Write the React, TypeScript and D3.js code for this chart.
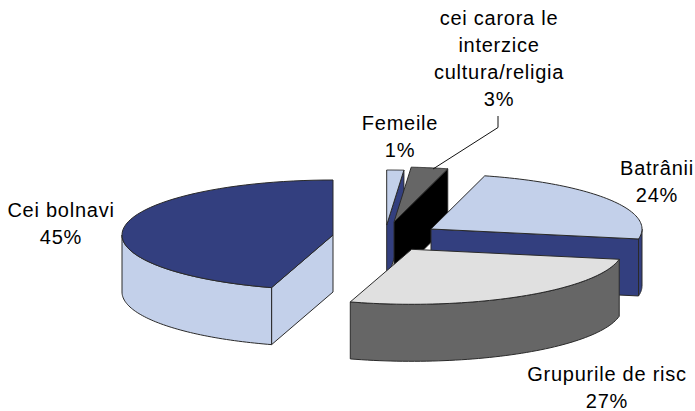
import React from "react";
import * as d3 from "d3";

const categories = ["Femeile", "cei carora le interzice cultura/religia", "Batrânii", "Grupurile de risc", "Cei bolnavi"];
const values = [1.3, 2.8, 23.8, 26.8, 45.3];
const topColors = ["#c3d0ea", "#666666", "#c3d0ea", "#e0e0e0", "#333f7f"];
const sideColors = ["#333f7f", "#000000", "#333f7f", "#666666", "#c3d0ea"];
const labelLines = [["Femeile"], ["cei carora le", "interzice", "cultura/religia"], ["Batrânii"], ["Grupurile de risc"], ["Cei bolnavi"]];

// layout (not data): exploded slice centres, label anchors and draw order
const centres: [number, number][] = [[386.7, 225], [394, 222], [431, 229], [411.7, 249.3], [333, 235]];
const labelPos: [number, number][] = [[400, 130], [499, 25], [657, 175], [607, 381], [61, 217]];
const drawOrder = [0, 1, 2, 4, 3];
const RX = 211, RY = 55, DEPTH = 57, LINE = 27;
const FONT = "'Liberation Sans', Arial, sans-serif";

export default function App() {
  const arcs = d3.pie<number>().sort(null).value((d) => d)(values);
  const pct = d3.format(".0f");
  const line = d3.line<[number, number]>().curve(d3.curveLinear);

  const pt = (i: number, a: number, dz = 0): [number, number] => [
    centres[i][0] + RX * Math.sin(a),
    centres[i][1] - RY * Math.cos(a) + dz,
  ];
  const sample = (i: number, a0: number, a1: number, dz = 0) =>
    d3.range(0, 61).map((k) => pt(i, d3.interpolateNumber(a0, a1)(k / 60), dz));

  return (
    <svg width={695} height={411} style={{ position: "absolute", left: 0, top: 0, background: "#fff" }}>
      {drawOrder.map((i) => {
        const { startAngle: s, endAngle: e } = arcs[i];
        const apex = centres[i];
        const apexLow: [number, number] = [apex[0], apex[1] + DEPTH];
        const r0 = Math.max(s, Math.PI / 2);
        const r1 = Math.min(e, (3 * Math.PI) / 2);
        const hasRim = r1 > r0;
        const rim = hasRim
          ? [...sample(i, r0, r1), ...sample(i, r1, r0, DEPTH)]
          : [];
        const wall = (a: number) => [apex, pt(i, a), pt(i, a, DEPTH), apexLow] as [number, number][];
        const top = [apex, ...sample(i, s, e)] as [number, number][];
        // a cut face shows when its outward normal points towards the viewer
        const showEnd = Math.sin(e) > 0.01;
        const showStart = Math.sin(s) < -0.01 && Math.cos(s) < 0;
        const stroke = { stroke: "#2a2a2a", strokeWidth: 1, strokeLinejoin: "round" as const };
        return (
          <g key={categories[i]}>
            {showEnd && <path d={line(wall(e)) + "Z"} fill={sideColors[i]} {...stroke} />}
            {showStart && <path d={line(wall(s)) + "Z"} fill={sideColors[i]} {...stroke} />}
            {hasRim && <path d={line(rim) + "Z"} fill={sideColors[i]} {...stroke} />}
            <path d={line(top) + "Z"} fill={topColors[i]} {...stroke} />
          </g>
        );
      })}
      <path
        d={line([[498, 116], [498, 127.5], [433, 169]])!}
        fill="none"
        stroke="#111"
        strokeWidth={1}
      />
      {categories.map((c, i) => (
        <text key={c} x={labelPos[i][0]} y={labelPos[i][1]} textAnchor="middle" fontFamily={FONT} fontSize={20} letterSpacing={0.75} fill="#000">
          {labelLines[i].map((t, k) => (
            <tspan key={t} x={labelPos[i][0]} dy={k === 0 ? 0 : LINE}>{t}</tspan>
          ))}
          <tspan x={labelPos[i][0]} dy={LINE}>{pct(values[i])}%</tspan>
        </text>
      ))}
    </svg>
  );
}
